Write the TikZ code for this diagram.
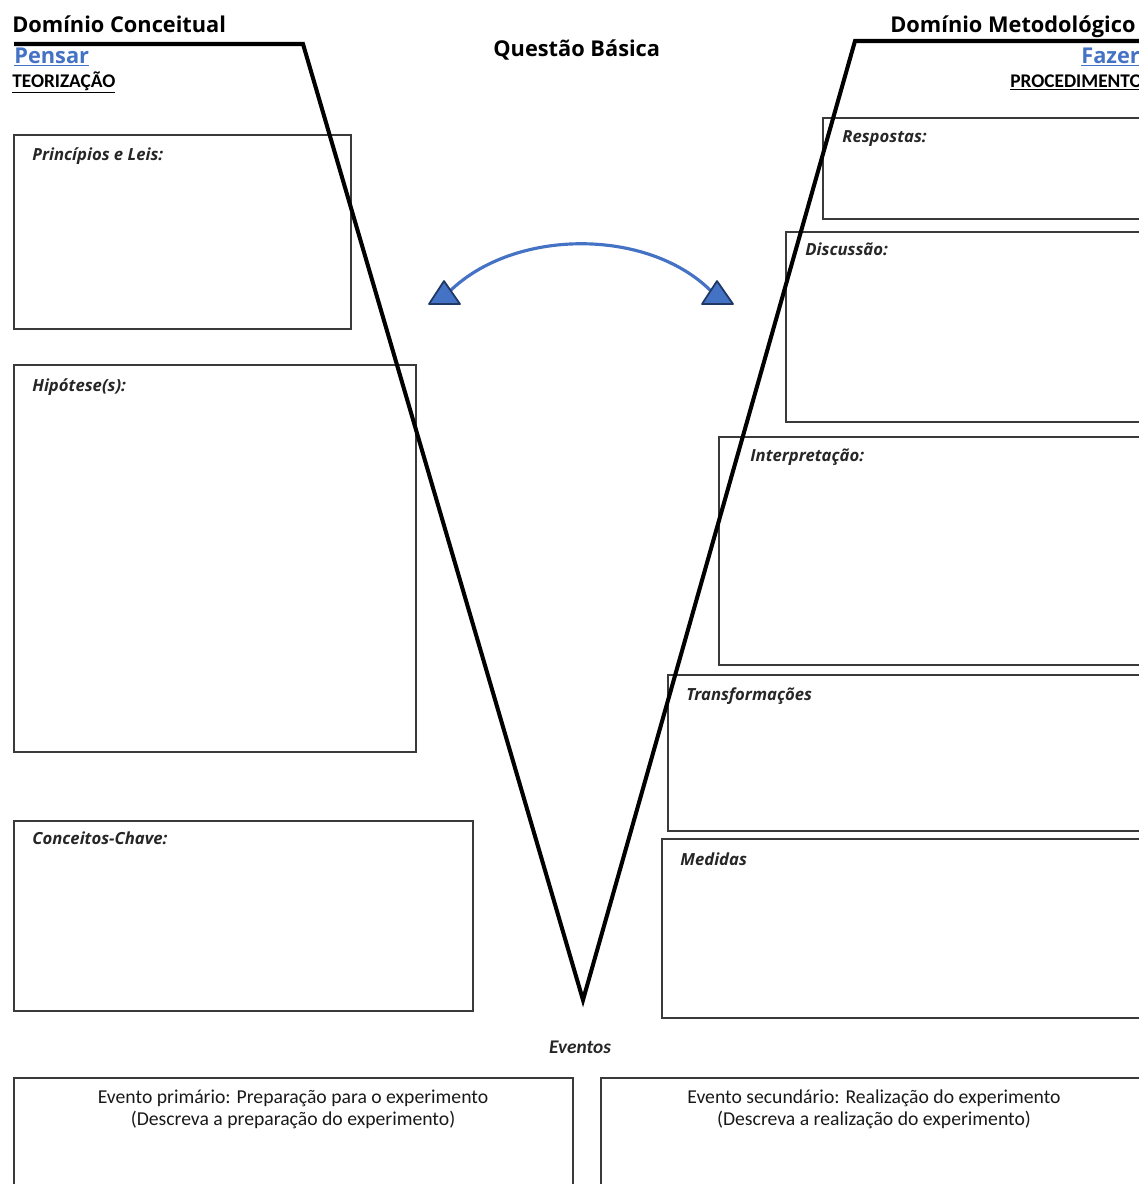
\documentclass[tikz,border=0pt]{standalone}
\usepackage{fontspec}
\setmainfont{Carlito}
\newfontfamily\headfont{Open Sans}
\usepackage{xcolor}
\usetikzlibrary{calc}
\definecolor{azul}{HTML}{4472C4}
\definecolor{azulesc}{HTML}{1F3864}
\definecolor{borda}{HTML}{3A3A3A}

\begin{document}
\begin{tikzpicture}[x=0.02cm,y=-0.02cm,
    caixa/.style={draw=borda,line width=0.8pt},
    titulo/.style={anchor=base west,inner sep=0pt,font=\headfont\bfseries\fontsize{12.4}{14}\selectfont},
    rotulo/.style={anchor=base west,inner sep=0pt,font=\headfont\bfseries\itshape\fontsize{9.5}{11}\selectfont,text=black!85},
    evento/.style={anchor=base,inner sep=0pt,font=\fontsize{11.2}{13}\selectfont,text=black!90},
    seta/.style={fill=azul,draw=azulesc,line width=1pt,line join=round}]
        %AREA
        \useasboundingbox (0,0) rectangle (1139,1184);
        \clip (0,0) rectangle (1139,1184);
        %CAIXAS ESQUERDA
        \draw[caixa] (14,135) rectangle (351,329);
        \draw[caixa] (14,365) rectangle (416,752);
        \draw[caixa] (14,821) rectangle (473,1011);
        %CAIXAS DIREITA
        \draw[caixa] (823,118) rectangle (1150,219);
        \draw[caixa] (786,232) rectangle (1150,422);
        \draw[caixa] (719,437) rectangle (1150,665);
        \draw[caixa] (668,675) rectangle (1150,831);
        \draw[caixa] (662,839) rectangle (1150,1018);
        %CAIXAS EVENTOS
        \draw[caixa] (14,1078) rectangle (573,1200);
        \draw[caixa] (601,1078) rectangle (1147,1200);
        %KOORDINAT V
        \coordinate (E) at (14,44);
        \coordinate (A) at (303,44);
        \coordinate (V) at (583,1000);
        \coordinate (B) at (855,41);
        \coordinate (D) at (1150,41);
        %GARIS V
        \draw[line width=2.3pt,line join=miter] (E) -- (A) -- (V) -- (B) -- (D);
        %TITULOS
        \node[titulo] (dc) at (12,32) {Domínio Conceitual};
        \node[titulo,text=azul] (pensar) at (14,63) {\underline{Pensar}};
        \node[anchor=base west,inner sep=0pt,font=\bfseries\fontsize{11}{13}\selectfont] (teo) at (12,87) {\underline{TEORIZAÇÃO}};
        \node[titulo] (qb) at (493,56) {Questão Básica};
        \node[titulo] (dm) at (890,32) {Domínio Metodológico};
        \node[titulo,text=azul] (fazer) at (1081,63) {\underline{Fazer}};
        \node[anchor=base west,inner sep=0pt,font=\bfseries\fontsize{11}{13}\selectfont] (proc) at (1010,87) {\underline{PROCEDIMENTO}};
        %ROTULOS
        \node[rotulo] (pl) at (32,160) {Princípios e Leis:};
        \node[rotulo] (hip) at (32,391) {Hipótese(s):};
        \node[rotulo] (cc) at (32,844) {Conceitos-Chave:};
        \node[rotulo] (resp) at (842,142) {Respostas:};
        \node[rotulo] (disc) at (805,255) {Discussão:};
        \node[rotulo] (interp) at (750,461) {Interpretação:};
        \node[rotulo] (transf) at (686,700) {Transformações};
        \node[rotulo] (med) at (680,865) {Medidas};
        %EVENTOS
        \node[anchor=base,inner sep=0pt,font=\bfseries\itshape\fontsize{11}{13}\selectfont,text=black!85] (ev) at (580,1053) {Eventos};
        \node[evento] (ep1) at (293,1103) {Evento primário: Preparação para o experimento};
        \node[evento] (ep2) at (293,1125) {(Descreva a preparação do experimento)};
        \node[evento] (es1) at (874,1103) {Evento secundário: Realização do experimento};
        \node[evento] (es2) at (874,1125) {(Descreva a realização do experimento)};
        %SETA DUPLA
        \coordinate (tL) at (444,281);
        \coordinate (tR) at (717,281);
        \draw[azul,line width=1.8pt] ($(tL)+(6,10)$) .. controls (515,228) and (648,228) .. ($(tR)+(-6,10)$);
        \draw[seta] (tL) -- (460,304) -- (429,304) -- cycle;
        \draw[seta] (tR) -- (733,304) -- (702,304) -- cycle;
\end{tikzpicture}
\end{document}
